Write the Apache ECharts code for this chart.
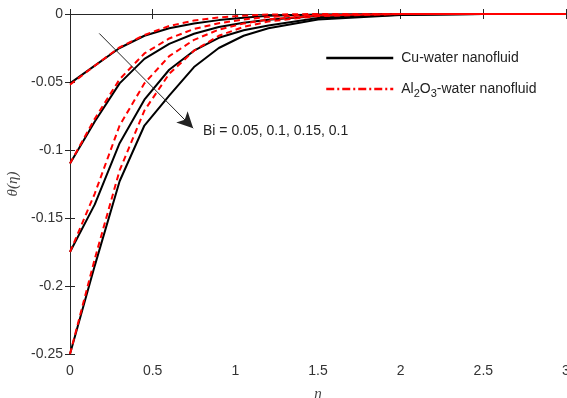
<!DOCTYPE html>
<html>
<head>
<meta charset="utf-8">
<script src="https://cdn.jsdelivr.net/npm/echarts@6/dist/echarts.min.js"></script>
<style>
  html, body { margin: 0; padding: 0; background: #fff; }
  #chart { width: 567px; height: 398px; }
</style>
</head>
<body>
<div id="chart"></div>
<script>
// eta grid shared by every curve
const eta = [0, 0.15, 0.3, 0.45, 0.6, 0.75, 0.9, 1.05, 1.2, 1.5, 2, 2.5, 3];

// Cu-water curves, one per Bi value
const cuBi1 = [-0.051, -0.038, -0.025, -0.016, -0.0105, -0.007, -0.0045, -0.0027, -0.0013, -0.0003, 0, 0, 0];
const cuBi2 = [-0.11, -0.079, -0.051, -0.033, -0.022, -0.0145, -0.0095, -0.0065, -0.0043, -0.0015, -0.0002, 0, 0];
const cuBi3 = [-0.175, -0.14, -0.095, -0.063, -0.041, -0.027, -0.0175, -0.012, -0.0085, -0.003, -0.0005, 0, 0];
const cuBi4 = [-0.25, -0.185, -0.123, -0.082, -0.06, -0.039, -0.025, -0.016, -0.0105, -0.004, -0.0008, 0, 0];

// Al2O3-water curves
const alBi1 = [-0.052, -0.038, -0.0245, -0.0155, -0.0088, -0.0048, -0.0025, -0.0012, -0.0004, 0, 0, 0, 0];
const alBi2 = [-0.11, -0.077, -0.048, -0.029, -0.018, -0.011, -0.0068, -0.004, -0.0022, -0.0006, 0, 0, 0];
const alBi3 = [-0.175, -0.132, -0.082, -0.051, -0.031, -0.019, -0.0115, -0.007, -0.004, -0.001, 0, 0, 0];
const alBi4 = [-0.25, -0.18, -0.115, -0.071, -0.044, -0.027, -0.016, -0.0095, -0.0055, -0.0015, 0, 0, 0];

// arrow annotation, data coords
const arrowFrom = [0.177, -0.0143];
const arrowTo = [0.745, -0.084];

const CU = "Cu-water nanofluid";
const AL = "Al2O3-water nanofluid";

const pair = vals => eta.map((x, i) => [x, vals[i]]);

function cuSeries(vals) {
  return {
    name: CU, type: "line", data: pair(vals), symbol: "none", smooth: false,
    lineStyle: { color: "#000", width: 2 }, itemStyle: { color: "#000" }, z: 3,
  };
}
function alSeries(vals) {
  return {
    name: AL, type: "line", data: pair(vals), symbol: "none", smooth: false,
    lineStyle: { color: "#ff0000", width: 2, type: [6, 4] }, itemStyle: { color: "#ff0000" }, z: 4,
  };
}

const chart = echarts.init(document.getElementById("chart"));
const axisColor = "#262626";
const font = "Liberation Sans, Arial, sans-serif";
const labelStyle = { color: "#333", fontSize: 14, fontFamily: font };

const series = [
  cuSeries(cuBi1), cuSeries(cuBi2), cuSeries(cuBi3), cuSeries(cuBi4),
  alSeries(alBi1), alSeries(alBi2), alSeries(alBi3), alSeries(alBi4),
];
// arrow through the curve family
series[0].markLine = {
  silent: true,
  symbol: ["none", "arrow"],
  symbolSize: [12, 16],
  label: { show: false },
  lineStyle: { color: "#222", width: 1, type: "solid" },
  data: [[{ coord: arrowFrom }, { coord: arrowTo }]],
};

const legendBase = {
  left: 325, itemWidth: 67, itemHeight: 14, itemGap: 0, padding: 0,
  selectedMode: false,
  itemStyle: { opacity: 0 },
};

chart.setOption({
  animation: false,
  grid: { left: 70, right: 1, top: 14, bottom: 44, outerBoundsMode: "none", containLabel: false },
  xAxis: [
    {
      type: "value", min: 0, max: 3, interval: 0.5,
      name: "η", nameLocation: "middle", nameGap: 33,
      nameTextStyle: { fontFamily: "Liberation Serif, serif", fontStyle: "italic", fontSize: 15, color: "#444" },
      axisLine: { lineStyle: { color: axisColor } },
      axisTick: { inside: true, length: 5, lineStyle: { color: axisColor } },
      axisLabel: Object.assign({ margin: 10 }, labelStyle),
      splitLine: { show: false },
    },
    {
      type: "value", min: 0, max: 3, interval: 0.5, position: "top",
      axisLine: { lineStyle: { color: axisColor } },
      axisTick: { inside: true, length: 5, lineStyle: { color: axisColor } },
      axisLabel: { show: false }, splitLine: { show: false },
    },
  ],
  yAxis: [
    {
      type: "value", min: -0.25, max: 0, interval: 0.05,
      name: "θ(η)", nameLocation: "middle", nameGap: 48,
      nameTextStyle: { fontFamily: "Liberation Serif, serif", fontStyle: "italic", fontSize: 15, color: "#444" },
      axisLine: { show: true, lineStyle: { color: axisColor } },
      axisTick: { show: true, inside: true, length: 5, lineStyle: { color: axisColor } },
      axisLabel: Object.assign({ margin: 7 }, labelStyle),
      splitLine: { show: false },
    },
    {
      type: "value", min: -0.25, max: 0, interval: 0.05, position: "right",
      axisLine: { show: true, lineStyle: { color: axisColor } },
      axisTick: { show: true, inside: true, length: 5, lineStyle: { color: axisColor } },
      axisLabel: { show: false }, splitLine: { show: false },
    },
  ],
  legend: [
    Object.assign({}, legendBase, {
      data: [CU], top: 51,
      lineStyle: { width: 2.5 },
      textStyle: { color: "#222", fontSize: 14, fontFamily: font, padding: [0, 0, 0, 3] },
    }),
    Object.assign({}, legendBase, {
      data: [AL], top: 82,
      lineStyle: { width: 2.5, type: [8, 3, 2, 3] },
      formatter: () => "{t|Al}{s|2}{t|O}{s|3}{t|-water nanofluid}",
      textStyle: {
        color: "#222", fontSize: 14, fontFamily: font, padding: [0, 0, 0, 3],
        rich: {
          t: { fontSize: 14, color: "#222", fontFamily: font },
          s: { fontSize: 11, color: "#222", fontFamily: font, padding: [9, 0, 0, 0] },
        },
      },
    }),
  ],
  graphic: [
    {
      type: "text", left: 203, top: 124,
      style: { text: "Bi = 0.05, 0.1, 0.15, 0.1", fill: "#222", fontSize: 14, fontFamily: font },
    },
  ],
  series: series,
});
</script>
</body>
</html>
